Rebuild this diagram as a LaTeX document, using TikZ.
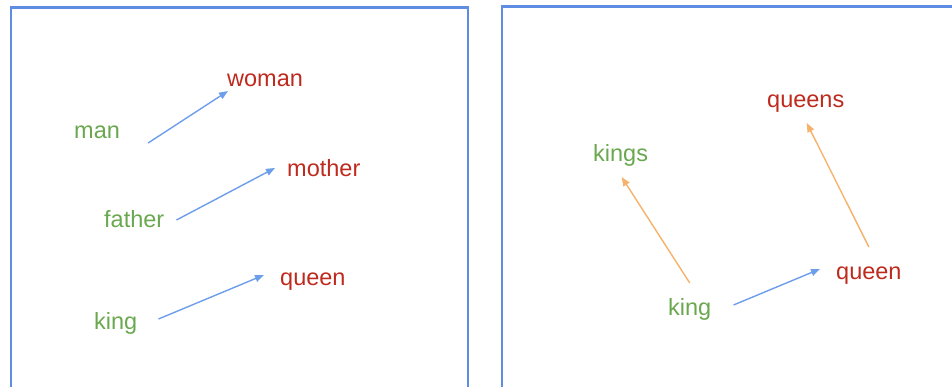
\documentclass[tikz,border=0pt]{standalone}
\usepackage{fontspec}
\setmainfont{Liberation Sans}
\usetikzlibrary{arrows.meta}

\definecolor{wgreen}{HTML}{6AA84F}
\definecolor{wred}{HTML}{BE2A1E}
\definecolor{vblue}{HTML}{6D9EEB}
\definecolor{vorange}{HTML}{F6B26B}
\definecolor{frame}{HTML}{5F8DE4}

\begin{document}
\begin{tikzpicture}[x=1pt,y=-1pt,
    word/.style={inner sep=0pt,anchor=base west,font=\fontsize{23.5}{28}\selectfont},
    src/.style={word,text=wgreen},
    tgt/.style={word,text=wred},
    vec/.style={vblue,line width=1.4pt,-{Triangle[length=9pt,width=7pt]}},
    plural/.style={vorange,line width=1.4pt,-{Triangle[length=9pt,width=7pt]}}]
  \useasboundingbox (0,0) rectangle (952,387);
  \clip (0,0) rectangle (952,387);
  \draw[frame,line width=2.2pt] (10.9,400) -- (10.9,7.5) -- (467.7,7.5) -- (467.7,400);
  \draw[frame,line width=2.2pt] (502,400) -- (502,6.5) -- (960,6.5);
  % gender offsets
  \node[src] (man) at (74,139) {man};
  \node[tgt] (woman) at (227,87) {woman};
  \node[src] (father) at (104,228) {father};
  \node[tgt] (mother) at (287,177) {mother};
  \node[src] (king) at (94,329) {king};
  \node[tgt] (queen) at (280,285) {queen};
  \draw[vec] ([shift={(28,4)}]man.base east) -- ([shift={(1,4)}]woman.base west);
  \draw[vec] ([shift={(12,-8)}]father.base east) -- ([shift={(-12,-9)}]mother.base west);
  \draw[vec] ([shift={(21,-10)}]king.base east) -- ([shift={(-16,-10)}]queen.base west);
  % plural offsets
  \node[src] (kingr) at (668,315) {king};
  \node[tgt] (queenr) at (836,279) {queen};
  \node[src] (kings) at (593,162) {kings};
  \node[tgt] (queens) at (767,108) {queens};
  \draw[vec] ([shift={(22,-10)}]kingr.base east) -- ([shift={(-16,-10)}]queenr.base west);
  \draw[plural] ([shift={(0,-32)}]kingr.base) -- ([shift={(1,15)}]kings.base);
  \draw[plural] ([shift={(0,-32)}]queenr.base) -- ([shift={(1,15)}]queens.base);
\end{tikzpicture}
\end{document}
